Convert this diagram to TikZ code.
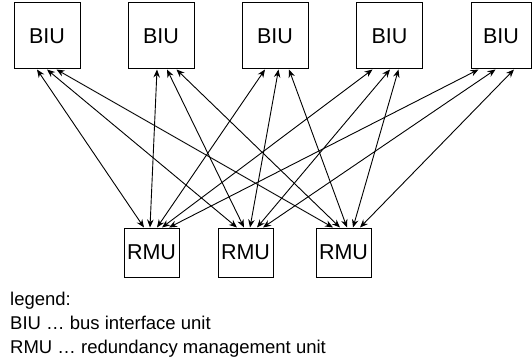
\documentclass[tikz,border=0pt]{standalone}
\usepackage{fontspec}
\setmainfont{Liberation Sans}
\usetikzlibrary{arrows.meta}
\tikzset{
  unitbox/.style={draw, line width=1pt, inner sep=0pt, font=\fontsize{21.5}{25}\selectfont},
  biu/.style={unitbox, minimum width=66pt, minimum height=66pt},
  rmu/.style={unitbox, minimum width=55pt, minimum height=49pt},
  link/.style={line width=0.9pt, {Stealth[length=8pt,width=6.5pt]}-{Stealth[length=8pt,width=6.5pt]}}
}
\begin{document}
\begin{tikzpicture}[x=1pt,y=-1pt]
\useasboundingbox (0,0) rectangle (532,358);
% BIU boxes
\node[biu] (b1) at (47,36) {BIU};
\node[biu] (b2) at (161,36) {BIU};
\node[biu] (b3) at (275,36) {BIU};
\node[biu] (b4) at (389.5,36) {BIU};
\node[biu, minimum width=60pt] (b5) at (501,36) {BIU};
% RMU boxes
\node[rmu] (r1) at (151.5,252.5) {RMU};
\node[rmu] (r2) at (245.5,252.5) {RMU};
\node[rmu] (r3) at (343.5,252.5) {RMU};
% connectors: BIU i, k-th point  <->  RMU k, i-th point
\draw[link] ([xshift=-10pt]b1.south) -- ([xshift=-7.5pt]r1.north);
\draw[link] ([xshift=0pt]b1.south) -- ([xshift=-8.5pt]r2.north);
\draw[link] ([xshift=9.5pt]b1.south) -- ([xshift=-10.5pt]r3.north);
\draw[link] ([xshift=-4pt]b2.south) -- ([xshift=-1.5pt]r1.north);
\draw[link] ([xshift=6pt]b2.south) -- ([xshift=-1.5pt]r2.north);
\draw[link] ([xshift=15.5pt]b2.south) -- ([xshift=-3.5pt]r3.north);
\draw[link] ([xshift=-10pt]b3.south) -- ([xshift=5.5pt]r1.north);
\draw[link] ([xshift=3.5pt]b3.south) -- ([xshift=4.5pt]r2.north);
\draw[link] ([xshift=14pt]b3.south) -- ([xshift=3.5pt]r3.north);
\draw[link] ([xshift=-17pt]b4.south) -- ([xshift=10.5pt]r1.north);
\draw[link] ([xshift=0.5pt]b4.south) -- ([xshift=11.5pt]r2.north);
\draw[link] ([xshift=9pt]b4.south) -- ([xshift=9.5pt]r3.north);
\draw[link] ([xshift=-22.5pt]b5.south) -- ([xshift=17.5pt]r1.north);
\draw[link] ([xshift=-5.5pt]b5.south) -- ([xshift=17.5pt]r2.north);
\draw[link] ([xshift=13pt]b5.south) -- ([xshift=16.5pt]r3.north);
% legend
\node[anchor=base west, align=left, inner sep=0pt, font=\fontsize{18.5}{23.6}\selectfont] (legend) at (10,353)
  {legend:\\BIU … bus interface unit\\RMU … redundancy management unit};
\end{tikzpicture}
\end{document}
